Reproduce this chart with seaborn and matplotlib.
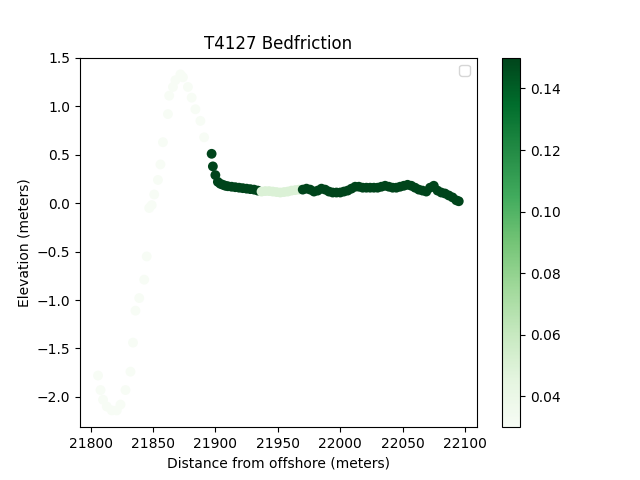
import matplotlib
matplotlib.use("Agg")
import matplotlib.pyplot as plt
import numpy as np
import pandas as pd
import seaborn as sns

# offshore bar, low friction
x_bar = [21806, 21808, 21810, 21813, 21817, 21821, 21824, 21828, 21832, 21834, 21836, 21839,
         21843, 21845, 21847, 21849, 21851, 21854, 21856, 21858, 21862, 21863, 21866, 21868,
         21872, 21874, 21878, 21881, 21884, 21888, 21891]
y_bar = [-1.78, -1.93, -2.03, -2.10, -2.14, -2.14, -2.08, -1.93, -1.74, -1.44, -1.11, -0.98,
         -0.79, -0.55, -0.05, -0.02, 0.09, 0.24, 0.40, 0.63, 0.92, 1.11, 1.20, 1.27,
         1.33, 1.30, 1.20, 1.09, 0.97, 0.85, 0.68]
f_bar = [0.03] * len(x_bar)

# shoreward part, high friction
x_hi1 = [21897, 21898, 21900, 21902, 21904, 21906, 21908, 21910, 21913, 21916, 21919,
         21922, 21925, 21928, 21931, 21934]
y_hi1 = [0.51, 0.38, 0.29, 0.22, 0.20, 0.19, 0.18, 0.175, 0.17, 0.165, 0.16,
         0.155, 0.15, 0.145, 0.14, 0.13]
f_hi1 = [0.15] * len(x_hi1)

# light patch
x_mid = [21937, 21940, 21943, 21946, 21949, 21952, 21955, 21958, 21961, 21964, 21967]
y_mid = [0.12, 0.125, 0.125, 0.12, 0.115, 0.11, 0.115, 0.12, 0.13, 0.135, 0.14]
f_mid = [0.05] * len(x_mid)

x_hi2 = [21970, 21973, 21976, 21979, 21982, 21985, 21988, 21991, 21994, 21997, 22000,
         22003, 22006, 22009, 22012, 22015, 22018, 22021, 22024, 22027, 22030, 22033,
         22036, 22039, 22042, 22045, 22048, 22051, 22054, 22057, 22060, 22063, 22066,
         22069, 22072, 22075, 22078, 22081, 22084, 22087, 22090, 22093, 22095]
y_hi2 = [0.14, 0.15, 0.14, 0.12, 0.13, 0.15, 0.14, 0.12, 0.11, 0.11, 0.11,
         0.12, 0.13, 0.15, 0.17, 0.17, 0.16, 0.16, 0.16, 0.16, 0.16, 0.17,
         0.18, 0.17, 0.16, 0.16, 0.17, 0.18, 0.19, 0.18, 0.16, 0.14, 0.13,
         0.12, 0.16, 0.18, 0.13, 0.11, 0.10, 0.08, 0.06, 0.03, 0.02]
f_hi2 = [0.15] * len(x_hi2)

df = pd.DataFrame({
    "x": x_bar + x_hi1 + x_mid + x_hi2,
    "y": y_bar + y_hi1 + y_mid + y_hi2,
    "f": f_bar + f_hi1 + f_mid + f_hi2,
})

vmin, vmax = 0.03, 0.15
fig, ax = plt.subplots(figsize=(6.4, 4.8), dpi=100)
sns.scatterplot(data=df, x="x", y="y", hue="f", palette="Greens", hue_norm=(vmin, vmax),
                s=50, linewidth=0, legend=False, ax=ax)

sm = plt.cm.ScalarMappable(cmap="Greens", norm=plt.Normalize(vmin, vmax))
fig.colorbar(sm, ax=ax)
ax.legend()
ax.set_title("T4127 Bedfriction")
ax.set_xlabel("Distance from offshore (meters)")
ax.set_ylabel("Elevation (meters)")
ax.set_xticks([21800, 21850, 21900, 21950, 22000, 22050, 22100])
fig.savefig("out.png")
